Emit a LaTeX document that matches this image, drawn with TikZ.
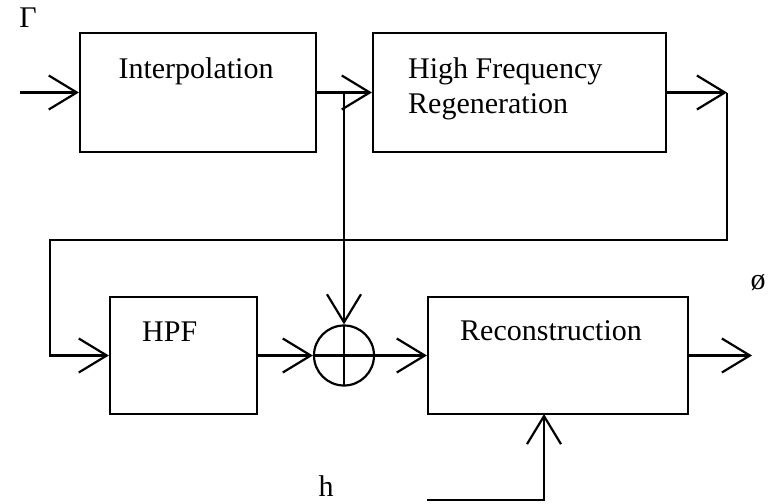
\documentclass[tikz,border=0pt]{standalone}
\usepackage{fontspec}
\setmainfont{Liberation Serif}
\usetikzlibrary{arrows.meta}
\tikzset{
    block/.style={draw, line width=2.2pt, rectangle, inner sep=0pt},
    lbl/.style={font=\fontsize{30}{34}\selectfont, inner sep=0pt},
    arr/.style={line width=2.2pt, -{Straight Barb[length=28pt, width=34pt, line width=2.2pt]}},
}
\begin{document}
\begin{tikzpicture}[x=1pt, y=-1pt]
    \useasboundingbox (0,0) rectangle (783,503);
    % blocks
    \node[block, minimum width=236pt, minimum height=119pt] (interp) at (198,92.5) {};
    \node[block, minimum width=293pt, minimum height=119pt] (hfr) at (519.5,92.5) {};
    \node[block, minimum width=147pt, minimum height=117pt] (hpf) at (183.5,355.5) {};
    \node[block, minimum width=260pt, minimum height=117pt] (recon) at (558,355.5) {};
    \node[draw, circle, line width=2.2pt, minimum size=60pt, inner sep=0pt,
          path picture={\draw[line width=2.6pt] (path picture bounding box.north) -- (path picture bounding box.south)
                        (path picture bounding box.west) -- (path picture bounding box.east);}] (sum) at (344,355.5) {};
    % texts
    \node[lbl, anchor=base] at (196,78) {Interpolation};
    \node[lbl, anchor=base west] at (408,78) {High Frequency};
    \node[lbl, anchor=base west] at (408,113) {Regeneration};
    \node[lbl, anchor=base west] at (142,341) {HPF};
    \node[lbl, anchor=base west] at (460,340) {Reconstruction};
    \node[lbl] (rlbl) at (28,18) {Γ};
    \node[lbl] (olbl) at (758,283) {ø};
    \node[lbl] (hlbl) at (326,486) {h};
    % connectors
    \coordinate (in) at (20,92.5);
    \coordinate (br) at (344,92.5);
    \coordinate (fb) at (727,92.5);
    \coordinate (fbl) at (50,240);
    \coordinate (out) at (752,355.5);
    \coordinate (hin) at (427,500);
    \coordinate (hup) at (544,414);
    \draw[arr] (in) -- (interp.west);
    \draw[arr] (interp.east) -- (hfr.west);
    \draw[arr] (br) -- (sum.north);
    \draw[arr] (hfr.east) -- (fb);
    \draw[arr] (fb) |- (fbl) |- (hpf.west);
    \draw[arr] (hpf.east) -- (sum.west);
    \draw[arr] (sum.east) -- (recon.west);
    \draw[arr] (recon.east) -- (out);
    \draw[arr] (hin) -| (hup);
\end{tikzpicture}
\end{document}
